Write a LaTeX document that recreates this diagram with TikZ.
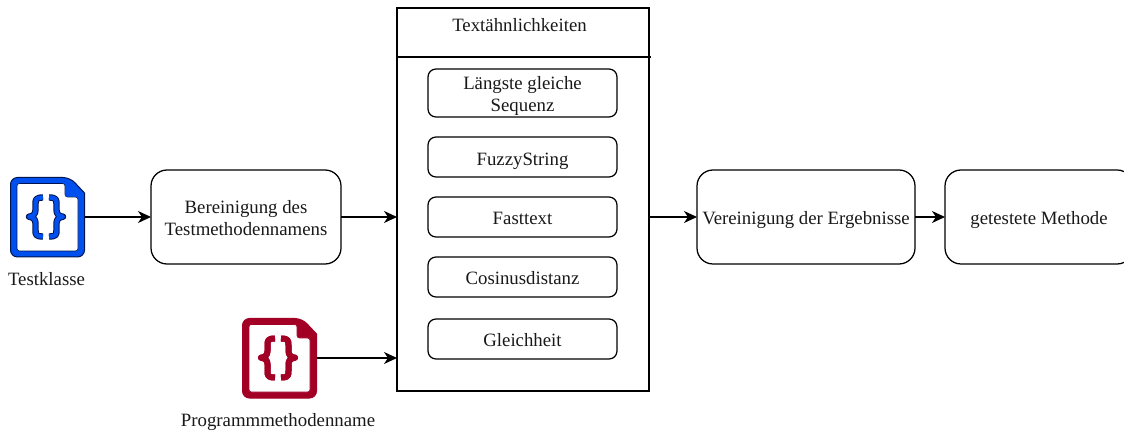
\documentclass[tikz,border=0pt]{standalone}
\usepackage{fontspec}
\setmainfont{Liberation Serif}
\usetikzlibrary{arrows.meta}
\definecolor{iconblue}{HTML}{0050EF}
\definecolor{icondarkblue}{HTML}{001450}
\definecolor{iconred}{HTML}{A20025}
\tikzset{
  x=1pt,y=-1pt,
  every node/.style={font=\fontsize{18.8}{21.5}\selectfont,inner sep=0pt,outer sep=0pt,text=black!90},
  roundbox/.style={draw=black,line width=1.25pt,rounded corners=#1,align=center,fill=white,text depth=0pt},
  roundbox/.default=8pt,
  container/.style={draw=black,line width=1.25pt,fill=white},
  flow/.style={draw=black,line width=1.25pt,-{Stealth[length=13pt,width=12pt,inset=4pt]}},
  iconanchor/.style={minimum width=74.5pt,minimum height=80pt},
  plainline/.style={draw=black,line width=1.25pt},
  baselabel/.style={anchor=base}
}
\newcommand{\codeicon}[6]{%
  % #1 x shift, #2 y shift, #3 fill, #4 outline, #5 brace outline width, #6 brace width
  \begin{scope}[shift={(#1,#2)}]
    \path[fill=#3,draw=#4,line width=1pt,rounded corners=7pt]
      (10.5,177.5) -- (70,177.5) [sharp corners] -- (84.5,193) [rounded corners=7pt] -- (84.5,257) -- (10.5,257) -- cycle;
    \path[fill=white,draw=#4,line width=.6pt,rounded corners=2.5pt]
      (17,183.5) -- (65,183.5) -- (65,197) -- (78,197) -- (78,251) -- (17,251) -- cycle;
    \path[fill=#3,draw=none] (65.5,184) -- (65.5,196.5) -- (77.5,196.5) -- (77.5,193) -- (69,184) -- cycle;
    \foreach \w/\c in {#5/#4,#6/#3}{
      \draw[line width=\w pt,draw=\c,line cap=butt,line join=round]
        (43,197.5) .. controls (36,197.5) and (35.5,199.5) .. (35.5,204) -- (35.5,210)
        .. controls (35.5,214) and (33,216.5) .. (29,216.7)
        .. controls (33,217) and (35.5,219.5) .. (35.5,223) -- (35.5,230)
        .. controls (35.5,235) and (36,236.5) .. (43,236.5);
      \draw[line width=\w pt,draw=\c,line cap=butt,line join=round]
        (49,197.5) .. controls (56,197.5) and (56.5,199.5) .. (56.5,204) -- (56.5,210)
        .. controls (56.5,214) and (59,216.5) .. (63,216.7)
        .. controls (59,217) and (56.5,219.5) .. (56.5,223) -- (56.5,230)
        .. controls (56.5,235) and (56,236.5) .. (49,236.5);
    }
  \end{scope}}
\begin{document}
\begin{tikzpicture}
  \useasboundingbox (0,0) rectangle (1124,435);

  % icons
  \node[iconanchor] (testicon) at (47.5,217) {};
  \codeicon{0}{0}{iconblue}{icondarkblue}{6.4}{4.4}
  \node[iconanchor] (progicon) at (279.5,358) {};
  \codeicon{232}{141}{iconred}{iconred}{6}{6}
  \node[baselabel] (testlabel) at (46.5,286) {Testklasse};
  \node[baselabel] (proglabel) at (278,426) {Programmmethodenname};

  % container
  \node[container,minimum width=252pt,minimum height=383pt] (sim) at (523,199.5) {};
  \coordinate (divl) at (397,57);
  \coordinate (divr) at (651,57);
  \draw[plainline] (divl) -- (divr);
  \node[baselabel] (simtitle) at (519.5,31.5) {Textähnlichkeiten};

  % inner boxes
  \node[roundbox,text height=37pt,minimum width=189pt,minimum height=48pt] (seq) at (522.5,93) {Längste gleiche\\Sequenz};
  \node[roundbox,text height=18pt,minimum width=189pt,minimum height=40pt] (fuzzy) at (522.5,157) {FuzzyString};
  \node[roundbox,text height=15pt,minimum width=189pt,minimum height=40pt] (fast) at (522.5,217) {Fasttext};
  \node[roundbox,text height=15pt,minimum width=189pt,minimum height=40pt] (cos) at (522.5,277) {Cosinusdistanz};
  \node[roundbox,text height=16pt,minimum width=189pt,minimum height=40pt] (gleich) at (522.5,339) {Gleichheit};

  % main boxes
  \node[roundbox=16pt,text height=37pt,minimum width=190pt,minimum height=94pt] (clean) at (246,217) {Bereinigung des\\Testmethodennamens};
  \node[roundbox=16pt,text height=16pt,minimum width=218pt,minimum height=94pt] (merge) at (806,217) {Vereinigung der Ergebnisse};
  \node[roundbox=16pt,text height=16pt,minimum width=188pt,minimum height=94pt] (result) at (1039,217) {getestete Methode};

  % connectors
  \draw[flow] (testicon.east) -- (clean.west);
  \draw[flow] (clean.east) -- (sim.west |- clean.east);
  \draw[flow] (progicon.east) -- (sim.west |- progicon.east);
  \draw[flow] (sim.east |- merge.west) -- (merge.west);
  \draw[flow] (merge.east) -- (result.west);
\end{tikzpicture}
\end{document}
